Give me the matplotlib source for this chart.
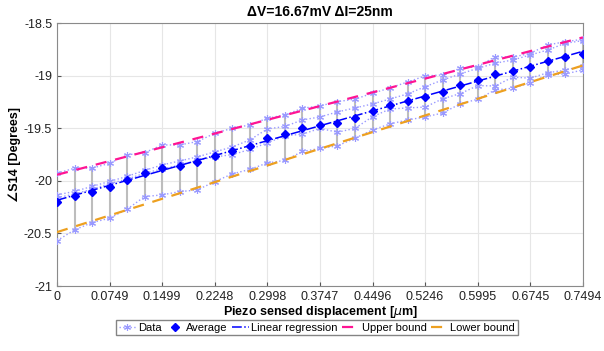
import numpy as np
import matplotlib
matplotlib.use('Agg')
import matplotlib.pyplot as plt
from matplotlib.ticker import FuncFormatter

plt.rcParams['font.family'] = ['Liberation Sans', 'DejaVu Sans']
plt.rcParams['axes.unicode_minus'] = False

# displacement steps (25 nm each, 31 points)
x = np.linspace(0, 0.7494, 31)

# four measurement runs of angle S14 [deg]
run_1 = [-19.927, -19.879, -19.879, -19.832, -19.753, -19.731, -19.658, -19.658, -19.626, -19.547,
         -19.499, -19.468, -19.404, -19.373, -19.309, -19.287, -19.246, -19.223, -19.166, -19.116,
         -19.059, -19.002, -18.992, -18.929, -18.914, -18.818, -18.824, -18.786, -18.707, -18.676, -18.653]
run_2 = [-20.133, -20.100, -20.052, -20.005, -19.957, -19.900, -19.848, -19.810, -19.772, -19.724,
         -19.677, -19.610, -19.506, -19.482, -19.420, -19.392, -19.344, -19.306, -19.268, -19.221,
         -19.173, -19.104, -19.040, -18.983, -18.929, -18.881, -18.850, -18.802, -18.755, -18.691, -18.666]
run_3 = [-20.160, -20.125, -20.079, -20.026, -19.983, -19.927, -19.886, -19.849, -19.805, -19.772,
         -19.750, -19.701, -19.638, -19.572, -19.555, -19.501, -19.537, -19.500, -19.389, -19.316,
         -19.306, -19.298, -19.219, -19.170, -19.094, -19.097, -19.013, -19.023, -18.971, -18.947, -18.907]
run_4 = [-20.568, -20.466, -20.396, -20.355, -20.269, -20.149, -20.133, -20.102, -20.086, -20.007,
         -19.933, -19.891, -19.829, -19.805, -19.720, -19.691, -19.667, -19.594, -19.515, -19.458,
         -19.420, -19.392, -19.354, -19.268, -19.223, -19.135, -19.119, -19.066, -18.992, -18.983, -18.945]

xtick_labels = ['0', '0.0749', '0.1499', '0.2248', '0.2998', '0.3747',
                '0.4496', '0.5246', '0.5995', '0.6745', '0.7494']
yticks = [-21, -20.5, -20, -19.5, -19, -18.5]

runs = np.array([run_1, run_2, run_3, run_4])
avg = runs.mean(axis=0)
hi = runs.max(axis=0)
lo = runs.min(axis=0)

fit = np.polyval(np.polyfit(x, avg, 1), x)
fit_hi = np.polyval(np.polyfit(x, hi, 1), x)
fit_lo = np.polyval(np.polyfit(x, lo, 1), x)

fig = plt.figure(figsize=(6.04, 3.51), dpi=100)
ax = fig.add_axes([0.0944, 0.185, 0.8706, 0.749])

data_col = '#9a9aff'
ax.vlines(x, lo, hi, color='#bdbdbd', lw=1.5, zorder=2)
for i, r in enumerate(runs):
    ax.plot(x, r, ls=':', color=data_col, lw=1.0, marker=(6, 2, 0), ms=5, mew=0.8,
            label='Data' if i == 0 else None, zorder=3)
ax.plot(x, avg, ls='none', marker='D', ms=4.5, color='#0000ff', label='Average', zorder=5)
ax.plot(x, fit, ls='-.', color='#0000ff', lw=1.1, label='Linear regression', zorder=4)
ax.plot(x, fit_hi, ls='--', color='#ff1493', lw=1.6, dashes=(5, 4), label='Upper bound', zorder=4)
ax.plot(x, fit_lo, ls='--', color='#eda020', lw=1.6, dashes=(5, 4), label='Lower bound', zorder=4)

ax.set_xlim(0, 0.7494)
ax.set_ylim(-21, -18.5)
ax.set_xticks(np.linspace(0, 0.7494, 11))
ax.set_xticklabels(xtick_labels)
ax.set_yticks(yticks)
ax.yaxis.set_major_formatter(FuncFormatter(lambda v, p: '%g' % v))
ax.tick_params(direction='in', labelsize=9, length=3, color='#555555', labelcolor='#222222')
ax.grid(True, color='#e6e6e6', lw=0.8)
ax.set_axisbelow(True)
for s in ax.spines.values():
    s.set_color('#8a8a8a')
    s.set_linewidth(0.8)

ax.set_title('\u0394V=16.67mV \u0394I=25nm', fontsize=10, fontweight='bold', pad=5)
ax.set_xlabel('Piezo sensed displacement [$\\mu$m]', fontsize=9, fontweight='bold', labelpad=1)
ax.set_ylabel('\u2220S14 [Degrees]', fontsize=9, fontweight='bold', labelpad=2)

fig.legend(loc='lower center', bbox_to_anchor=(0.525, 0.035), ncol=5, fontsize=8,
           frameon=True, fancybox=False, edgecolor='#666666', handlelength=1.5,
           handletextpad=0.25, columnspacing=0.4, borderpad=0.25, borderaxespad=0.3)

fig.savefig('out.png', dpi=100)
